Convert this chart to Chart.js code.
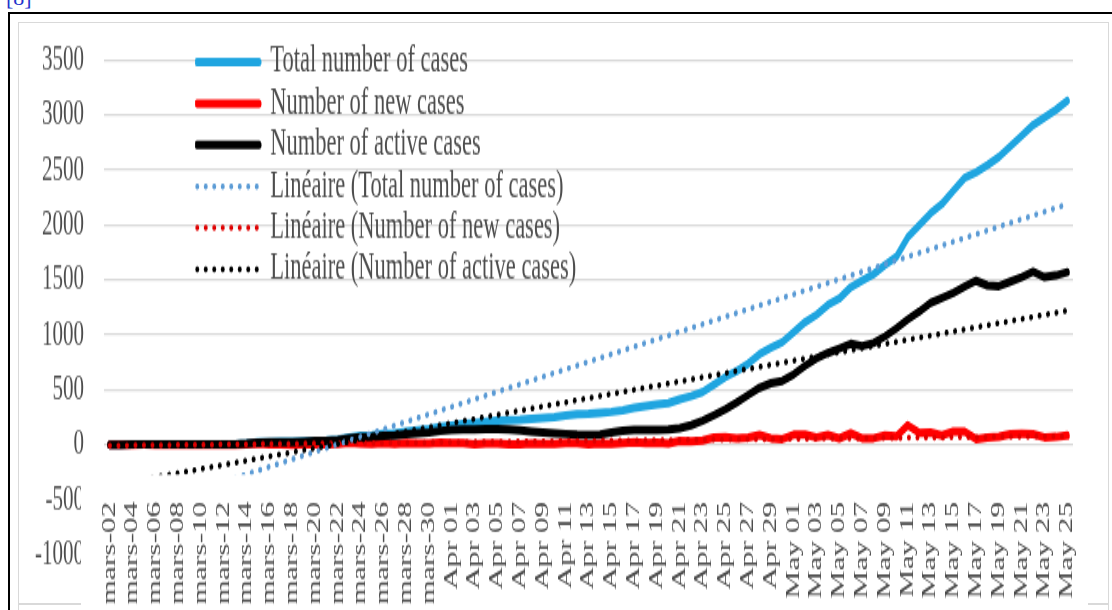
<!DOCTYPE html>
<html><head><meta charset="utf-8">
<script src="https://cdn.jsdelivr.net/npm/chart.js@4.4.1/dist/chart.umd.min.js"></script>
<style>
html,body{margin:0;padding:0;background:#fff;width:1112px;height:610px;overflow:hidden;position:relative}
#ref{position:absolute;left:6px;top:-13px;font:22px "Liberation Serif";color:#2233cc;line-height:22px}
#frame{position:absolute;left:8px;top:12px;width:1200px;height:700px;border:2px solid #000;box-sizing:border-box}
#inner{position:absolute;left:18px;top:22px;width:1091px;height:600px;border:1.5px solid #d9d9d9;border-bottom:none;box-sizing:border-box}
.bot{position:absolute;top:603px;height:1.5px;background:#d9d9d9}
#wrap{position:absolute;left:0;top:0;width:1112px;transform-origin:0 0}
canvas{display:block}
</style></head><body>
<div id="ref">[8]</div>
<div id="frame"></div>
<div id="inner"></div>
<div class="bot" style="left:18px;width:63px"></div>
<div class="bot" style="left:1088px;width:21px"></div>
<div id="wrap"><canvas id="c"></canvas></div>
<script>
const dates = [
 "mars-02","mars-03","mars-04","mars-05","mars-06","mars-07","mars-08","mars-09","mars-10","mars-11",
 "mars-12","mars-13","mars-14","mars-15","mars-16","mars-17","mars-18","mars-19","mars-20","mars-21",
 "mars-22","mars-23","mars-24","mars-25","mars-26","mars-27","mars-28","mars-29","mars-30","mars-31",
 "Apr 01","Apr 02","Apr 03","Apr 04","Apr 05","Apr 06","Apr 07","Apr 08","Apr 09","Apr 10",
 "Apr 11","Apr 12","Apr 13","Apr 14","Apr 15","Apr 16","Apr 17","Apr 18","Apr 19","Apr 20",
 "Apr 21","Apr 22","Apr 23","Apr 24","Apr 25","Apr 26","Apr 27","Apr 28","Apr 29","Apr 30",
 "May 01","May 02","May 03","May 04","May 05","May 06","May 07","May 08","May 09","May 10",
 "May 11","May 12","May 13","May 14","May 15","May 16","May 17","May 18","May 19","May 20",
 "May 21","May 22","May 23","May 24","May 25"
];
const totalCases = [
 1,1,2,4,4,4,4,4,4,4,
 4,5,10,21,24,26,27,31,36,38,
 47,67,79,86,99,105,119,130,142,162,
 175,190,195,207,219,222,226,237,244,250,
 265,278,280,291,299,314,335,350,367,377,
 412,442,479,545,614,671,736,823,882,933,
 1024,1115,1182,1271,1329,1433,1492,1551,1634,1709,
 1886,1995,2105,2189,2310,2429,2480,2544,2617,2714,
 2812,2909,2976,3047,3130
];
const newCases = [
 1,0,1,2,0,0,0,0,0,0,
 0,1,5,11,3,2,1,4,5,2,
 9,20,12,7,13,6,14,11,12,20,
 13,15,5,12,12,3,4,11,7,6,
 15,13,2,11,8,15,21,15,17,10,
 35,30,37,66,69,57,65,87,59,51,
 91,91,67,89,58,104,59,59,83,75,
 177,109,110,84,121,119,51,64,73,97,
 98,97,67,71,83
];
const activeCases = [
 1,1,2,4,4,4,4,4,4,4,
 4,5,10,20,22,24,24,28,33,35,
 42,58,68,72,82,86,96,103,110,125,
 134,140,140,142,141,138,130,120,112,105,
 98,92,90,92,110,128,135,135,135,137,
 150,178,217,268,322,385,452,518,560,580,
 640,718,787,835,875,918,898,925,985,1058,
 1140,1210,1290,1335,1380,1440,1492,1448,1442,1483,
 1525,1573,1525,1540,1570
];
// linear trend lines: [value at first date, value at last date]
const trendTotal = [-679, 2188];
const trendNew = [-8, 78];
const trendActive = [-372, 1220];
const yTicks = [-1000, -500, 0, 500, 1000, 1500, 2000, 2500, 3000, 3500];

const K = 1.7;
const W = 1112, H = Math.round(610 / K);
const sy = 610 / H;
const Y = v => v / sy;
const canvas = document.getElementById('c');
canvas.width = W; canvas.height = H;
canvas.style.width = W + 'px'; canvas.style.height = H + 'px';
document.getElementById('wrap').style.transform = 'scaleY(' + sy + ')';

function trendData(t) {
  return dates.map((d, i) => i === 0 ? t[0] : (i === dates.length - 1 ? t[1] : null));
}
const FONT = 'Liberation Serif';
const TXT = '#4d4d4d';
const LEG_FS = 22.5, LEG_PAD = 1.9;
const dot = [0.5, 8];
const CLIP = {left: false, top: false, right: false, bottom: -(Y(558) - Y(478))};
const LABEL_BOX_TOP = Y(480);

const layoutFix = {
  id: 'layoutFix',
  afterLayout(chart) {
    const lg = chart.legend;
    const dx = 197 - LEG_PAD - lg.left;
    const dy = Y(62) - LEG_PAD - LEG_FS / 2 - lg.top;
    lg.left += dx; lg.right += dx; lg.top += dy; lg.bottom += dy;
    // let the date labels reach up into the negative part of the plot, as in the original
    const xs = chart.scales.x;
    xs.top = LABEL_BOX_TOP;
    xs.bottom = H;
  }
};
const labelMask = {
  id: 'labelMask',
  beforeDatasetsDraw(chart) {
    const c = chart.ctx;
    c.save(); c.fillStyle = '#fff';
    c.fillRect(81, Y(478), 18, H);
    c.restore();
  }
};

new Chart(canvas, {
  type: 'line',
  data: {
    labels: dates,
    datasets: [
      {label: 'Total number of cases', data: totalCases, borderColor: '#1fa5e0', borderWidth: 5, order: 6, clip: CLIP},
      {label: 'Number of new cases', data: newCases, borderColor: '#ff0000', borderWidth: 5, order: 5, clip: CLIP},
      {label: 'Number of active cases', data: activeCases, borderColor: '#000000', borderWidth: 5, order: 4, clip: CLIP},
      {label: 'Linéaire (Total number of cases)', data: trendData(trendTotal), borderColor: '#5b9bd5', borderWidth: 3.5, borderDash: dot, spanGaps: true, order: 3, clip: CLIP},
      {label: 'Linéaire (Number of new cases)', data: trendData(trendNew), borderColor: '#e00000', borderWidth: 3.5, borderDash: dot, spanGaps: true, order: 2, clip: CLIP},
      {label: 'Linéaire (Number of active cases)', data: trendData(trendActive), borderColor: '#000000', borderWidth: 3.5, borderDash: dot, spanGaps: true, order: 1, clip: CLIP}
    ]
  },
  options: {
    responsive: false, animation: false, devicePixelRatio: 1,
    layout: {padding: {top: Y(60), right: W - 1073, left: 0, bottom: 0}},
    elements: {
      point: {radius: 0},
      line: {tension: 0, borderCapStyle: 'round', borderJoinStyle: 'round', fill: false}
    },
    scales: {
      x: {
        offset: true,
        grid: {display: false}, border: {display: false},
        ticks: {
          autoSkip: false, minRotation: 90, maxRotation: 90,
          padding: Y(488) - LABEL_BOX_TOP, color: TXT,
          font: {family: FONT, size: 18.5},
          callback(v, i) { return i % 2 === 0 ? this.getLabelForValue(v) : ''; }
        },
        afterFit(s) { s.height = H - Y(558); }
      },
      y: {
        min: yTicks[0], max: yTicks[yTicks.length - 1],
        afterBuildTicks(s) { s.ticks = yTicks.map(v => ({value: v})); },
        ticks: {padding: 20, color: TXT, font: {family: FONT, size: 21}, callback: v => String(v)},
        grid: {color: c => (c.tick && c.tick.value < 0) ? 'rgba(0,0,0,0)' : '#d9d9d9', lineWidth: 1.2, drawTicks: false},
        border: {display: false},
        afterFit(s) { s.width = 104; }
      }
    },
    plugins: {
      tooltip: {enabled: false},
      legend: {
        position: 'chartArea', align: 'start',
        labels: {
          usePointStyle: true, pointStyle: 'line', pointStyleWidth: 62,
          padding: LEG_PAD, color: TXT, font: {family: FONT, size: LEG_FS},
          generateLabels(chart) {
            return chart.data.datasets.map((ds, i) => ({
              text: ds.label, strokeStyle: ds.borderColor, fillStyle: ds.borderColor,
              lineWidth: ds.borderWidth, lineDash: ds.borderDash || [], lineCap: 'round',
              pointStyle: 'line', datasetIndex: i, hidden: false, fontColor: TXT
            }));
          }
        }
      }
    }
  },
  plugins: [layoutFix, labelMask]
});
</script>
</body></html>
